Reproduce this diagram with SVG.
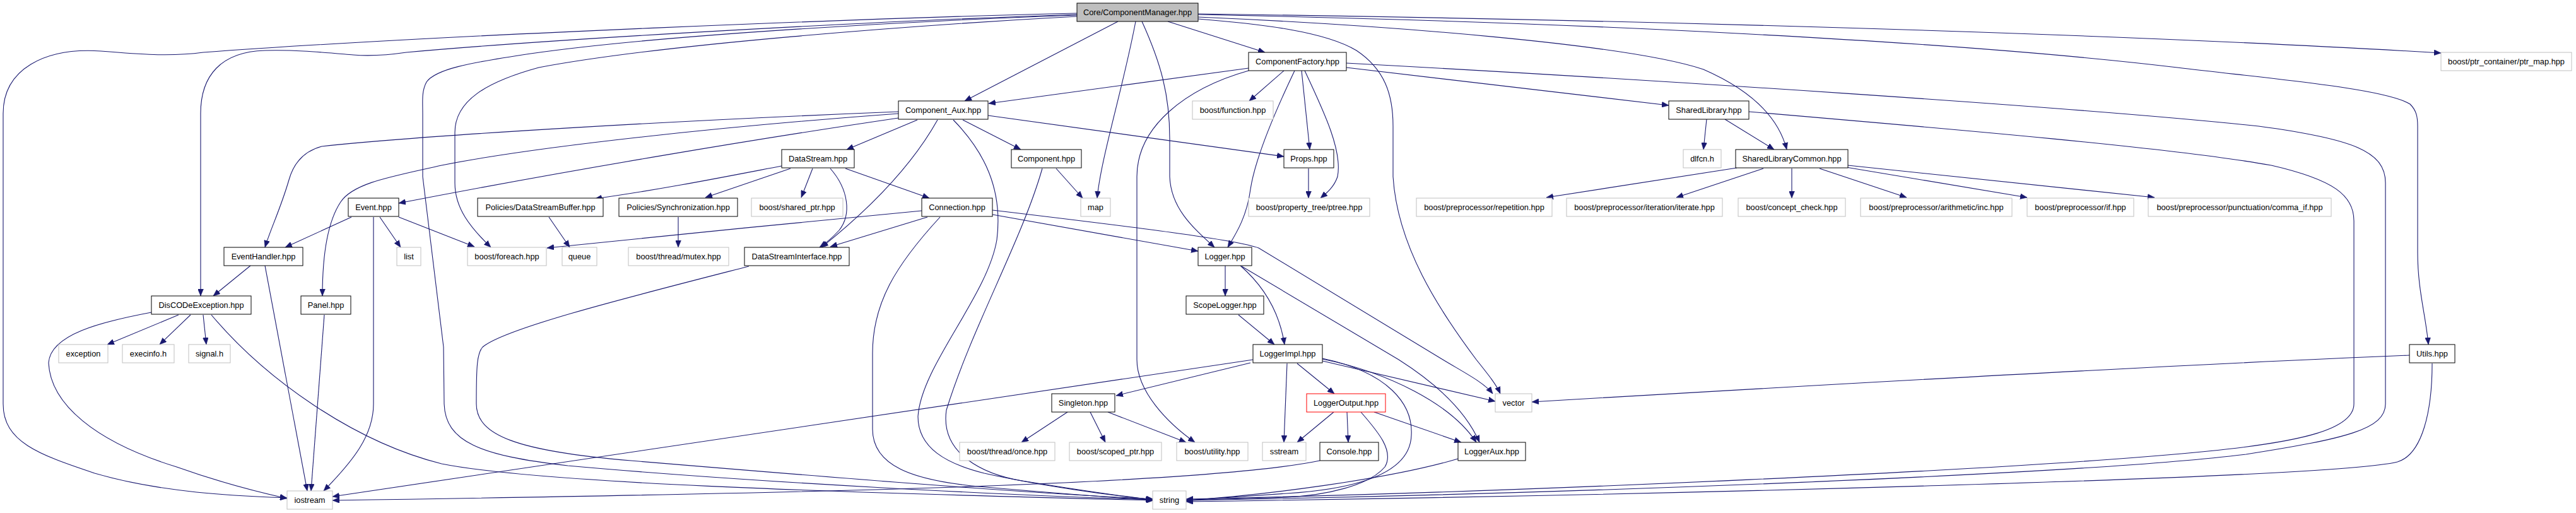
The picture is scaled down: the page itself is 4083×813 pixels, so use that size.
<svg xmlns="http://www.w3.org/2000/svg" width="4083" height="813" viewBox="0 0 4083 813">
<style>
.node rect{fill:#fff;stroke:#000;stroke-width:1}
.ext rect{stroke:#bfbfbf}
.root rect{fill:#bfbfbf}
.red rect{stroke:#ff0000}
.node text{font-family:"Liberation Sans",Arial,Helvetica,sans-serif;font-size:12.8px;text-anchor:middle;fill:#000}
#edges path{fill:none;stroke:#191970;stroke-width:1.1;marker-end:url(#arr)}
</style>
<defs>
<marker id="arr" markerUnits="userSpaceOnUse" markerWidth="11" markerHeight="9" refX="11" refY="4.5" orient="auto">
<path d="M0,0 L11,4.5 L0,9 z" fill="#191970" stroke="#191970" stroke-width="0.5"/>
</marker>
</defs>
<rect width="4083" height="813" fill="#fff"/>
<g id="edges">
<path d="M1707,21 C1400,28 700,55 322,83 C270,90 220,86 160,81 C70,75 5,110 5,180 L5,640 C5,700 60,720 150,750 C260,782 380,786 455,789"/>
<path d="M1707,23 C1400,33 900,60 644,83 C610,88 585,89 560,87 C500,82 470,79 420,80 C350,82 318,120 318,180 L318,469"/>
<path d="M1707,24 C1450,33 1050,55 841,85 C740,100 690,110 676,130 C668,145 670,160 670,180 L670,280 L703,550 L704,640 C706,700 760,722 900,738 C1200,765 1600,785 1827,792"/>
<path d="M1707,26 C1450,40 1050,70 854,107 C770,130 721,160 721,210 L721,290 C721,330 745,360 778,392"/>
<path d="M1772,34 L1529,160"/>
<path d="M1800,34 C1780,140 1745,250 1739,314"/>
<path d="M1810,34 C1840,100 1854,150 1854,220 L1854,280 C1856,330 1890,360 1925,392"/>
<path d="M1851,34 L2005,83"/>
<path d="M1899,22 C2500,30 3300,50 3869,84"/>
<path d="M1899,23 C2500,35 3100,65 3451,107 C3600,125 3780,140 3820,165 C3830,175 3832,185 3832,200 L3832,400 C3832,460 3845,500 3849,546"/>
<path d="M1899,27 C2200,40 2580,70 2700,110 C2780,145 2820,190 2832,237"/>
<path d="M1899,30 C2000,38 2100,50 2150,80 C2195,110 2208,150 2208,200 L2208,280 C2215,390 2280,490 2340,570 C2360,595 2372,610 2378,624"/>
<path d="M1979,108 L1567,164"/>
<path d="M2035,112 L1980,160"/>
<path d="M1979,112 C1880,140 1802,200 1802,280 L1802,570 C1802,620 1850,670 1894,701"/>
<path d="M2052,112 C2010,200 1988,260 1982,300 C1976,345 1958,372 1946,392"/>
<path d="M2063,112 L2076,237"/>
<path d="M2068,112 C2100,180 2128,240 2120,280 C2114,298 2100,308 2093,314"/>
<path d="M2134,107 L2645,167"/>
<path d="M2134,100 C2600,125 3300,170 3580,200 C3730,220 3781,240 3781,290 L3781,640 C3781,680 3720,695 3560,720 C3300,752 2500,782 1880,793"/>
<path d="M2705,189 L2700,237"/>
<path d="M2734,189 L2812,237"/>
<path d="M2772,177 C3100,205 3450,235 3600,262 C3700,285 3731,310 3731,350 L3731,640 C3731,680 3650,700 3500,715 C3200,745 2400,780 1880,791"/>
<path d="M3819,563 C3400,580 2800,615 2428,637"/>
<path d="M3855,576 C3855,650 3840,720 3800,732 C3700,758 2600,785 1880,795"/>
<path d="M2753,266 L2451,313"/>
<path d="M2795,267 L2657,313"/>
<path d="M2840,267 L2840,314"/>
<path d="M2884,267 L3022,313"/>
<path d="M2920,264 L3213,313"/>
<path d="M2929,262 L3415,313"/>
<path d="M1424,177 C1100,190 700,212 510,232 C480,240 465,260 458,285 C445,330 428,365 420,392"/>
<path d="M1424,180 C1150,200 850,232 700,262 C620,280 560,290 540,320 C520,350 511,400 511,469"/>
<path d="M1424,187 C1200,220 900,270 632,322"/>
<path d="M1454,190 L1342,237"/>
<path d="M1486,190 Q1430,290 1302,392"/>
<path d="M1511,190 C1560,240 1590,300 1580,380 C1565,470 1460,580 1455,660 C1455,710 1500,735 1560,750 C1650,770 1760,785 1828,792"/>
<path d="M1526,190 L1618,237"/>
<path d="M1566,183 L2035,248"/>
<path d="M1674,267 L1716,314"/>
<path d="M1652,267 C1620,380 1540,520 1500,650 C1490,720 1560,752 1620,762 C1700,775 1780,787 1828,792"/>
<path d="M1239,263 C1150,280 1050,300 943,315"/>
<path d="M1253,267 L1118,313"/>
<path d="M1288,267 L1270,313"/>
<path d="M1316,267 C1345,300 1350,340 1330,365 C1318,378 1305,388 1299,392"/>
<path d="M1340,267 L1473,314"/>
<path d="M1461,334 C1300,350 1000,378 867,393"/>
<path d="M1470,344 L1316,391"/>
<path d="M1490,344 C1420,420 1383,480 1383,560 L1383,680 C1383,740 1450,760 1540,770 C1650,780 1760,788 1828,793"/>
<path d="M1573,340 L1899,398"/>
<path d="M1573,333 C1800,360 1960,380 1995,393 L2287,570 C2320,590 2352,606 2366,624"/>
<path d="M1187,422 C1000,470 800,520 765,550 C756,560 755,580 755,640 C755,690 820,715 1000,730 C1300,755 1600,780 1828,791"/>
<path d="M557,344 L452,392"/>
<path d="M602,344 L635,392"/>
<path d="M632,344 L752,391"/>
<path d="M592,344 L592,640 C592,690 560,730 513,778"/>
<path d="M397,421 L338,469"/>
<path d="M420,421 L487,778"/>
<path d="M514,499 L493,778"/>
<path d="M283,499 L170,546"/>
<path d="M302,499 L253,546"/>
<path d="M322,499 L327,546"/>
<path d="M240,495 C160,510 80,530 77,575 C80,640 150,700 280,740 C350,765 410,780 455,790"/>
<path d="M335,499 C420,600 560,700 700,735 C850,765 1300,780 1828,793"/>
<path d="M1942,421 L1942,469"/>
<path d="M1966,421 C2005,455 2028,495 2036,546"/>
<path d="M1968,422 L2217,570 C2280,610 2325,655 2345,701"/>
<path d="M1986,570 L527,787"/>
<path d="M1982,575 L1769,627"/>
<path d="M2040,576 L2035,701"/>
<path d="M2056,576 L2115,624"/>
<path d="M2096,572 L2370,636"/>
<path d="M2096,569 C2200,590 2300,640 2340,701"/>
<path d="M2096,568 C2200,590 2240,640 2237,690 C2235,750 2150,775 2040,782 C1980,786 1920,790 1880,793"/>
<path d="M1963,499 L2020,546"/>
<path d="M2114,653 L2056,701"/>
<path d="M2135,653 L2137,701"/>
<path d="M2157,653 C2185,685 2210,715 2195,740 C2170,770 2100,785 2040,788 C1980,790 1920,792 1880,793"/>
<path d="M2178,653 L2316,701"/>
<path d="M2092,730 C1900,770 1200,783 527,793"/>
<path d="M2311,727 C2200,760 2000,785 1880,793"/>
<path d="M1692,653 L1619,701"/>
<path d="M1728,653 L1752,701"/>
<path d="M1756,653 L1880,701"/>
<path d="M870,344 L903,392"/>
<path d="M1075,344 L1075,392"/>
<path d="M2074,267 L2074,314"/>
</g>
<g id="n_cm" class="node root"><rect x="1707" y="5" width="192" height="29"/><text x="1803" y="24">Core/ComponentManager.hpp</text></g>
<g id="n_compaux" class="node"><rect x="1424" y="160" width="142" height="29"/><text x="1495" y="179">Component_Aux.hpp</text></g>
<g id="n_function" class="node ext"><rect x="1890" y="160" width="128" height="29"/><text x="1954" y="179">boost/function.hpp</text></g>
<g id="n_cfactory" class="node"><rect x="1979" y="83" width="155" height="29"/><text x="2056.5" y="102">ComponentFactory.hpp</text></g>
<g id="n_datastream" class="node"><rect x="1239" y="237" width="115" height="29"/><text x="1296.5" y="256">DataStream.hpp</text></g>
<g id="n_component" class="node"><rect x="1603" y="237" width="111" height="29"/><text x="1658.5" y="256">Component.hpp</text></g>
<g id="n_props" class="node"><rect x="2035" y="237" width="79" height="29"/><text x="2074.5" y="256">Props.hpp</text></g>
<g id="n_sharedlib" class="node"><rect x="2645" y="160" width="127" height="29"/><text x="2708.5" y="179">SharedLibrary.hpp</text></g>
<g id="n_dlfcn" class="node ext"><rect x="2668" y="237" width="60" height="29"/><text x="2698" y="256">dlfcn.h</text></g>
<g id="n_slc" class="node"><rect x="2751" y="237" width="178" height="29"/><text x="2840" y="256">SharedLibraryCommon.hpp</text></g>
<g id="n_ptrmap" class="node ext"><rect x="3869" y="83" width="207" height="29"/><text x="3972.5" y="102">boost/ptr_container/ptr_map.hpp</text></g>
<g id="n_event" class="node"><rect x="552" y="314" width="80" height="29"/><text x="592" y="333">Event.hpp</text></g>
<g id="n_pdsb" class="node"><rect x="757" y="314" width="199" height="29"/><text x="856.5" y="333">Policies/DataStreamBuffer.hpp</text></g>
<g id="n_psync" class="node"><rect x="981" y="314" width="188" height="29"/><text x="1075" y="333">Policies/Synchronization.hpp</text></g>
<g id="n_sharedptr" class="node ext"><rect x="1191" y="314" width="145" height="29"/><text x="1263.5" y="333">boost/shared_ptr.hpp</text></g>
<g id="n_connection" class="node"><rect x="1461" y="314" width="112" height="29"/><text x="1517" y="333">Connection.hpp</text></g>
<g id="n_map" class="node ext"><rect x="1713" y="314" width="47" height="29"/><text x="1736.5" y="333">map</text></g>
<g id="n_ptree" class="node ext"><rect x="1979" y="314" width="192" height="29"/><text x="2075" y="333">boost/property_tree/ptree.hpp</text></g>
<g id="n_repetition" class="node ext"><rect x="2245" y="314" width="215" height="29"/><text x="2352.5" y="333">boost/preprocessor/repetition.hpp</text></g>
<g id="n_iterate" class="node ext"><rect x="2483" y="314" width="247" height="29"/><text x="2606.5" y="333">boost/preprocessor/iteration/iterate.hpp</text></g>
<g id="n_concept" class="node ext"><rect x="2755" y="314" width="170" height="29"/><text x="2840" y="333">boost/concept_check.hpp</text></g>
<g id="n_inc" class="node ext"><rect x="2949" y="314" width="240" height="29"/><text x="3069" y="333">boost/preprocessor/arithmetic/inc.hpp</text></g>
<g id="n_if" class="node ext"><rect x="3213" y="314" width="169" height="29"/><text x="3297.5" y="333">boost/preprocessor/if.hpp</text></g>
<g id="n_commaif" class="node ext"><rect x="3405" y="314" width="290" height="29"/><text x="3550" y="333">boost/preprocessor/punctuation/comma_if.hpp</text></g>
<g id="n_eventhandler" class="node"><rect x="355" y="392" width="125" height="29"/><text x="417.5" y="411">EventHandler.hpp</text></g>
<g id="n_list" class="node ext"><rect x="629" y="392" width="38" height="29"/><text x="648" y="411">list</text></g>
<g id="n_foreach" class="node ext"><rect x="741" y="392" width="125" height="29"/><text x="803.5" y="411">boost/foreach.hpp</text></g>
<g id="n_queue" class="node ext"><rect x="891" y="392" width="55" height="29"/><text x="918.5" y="411">queue</text></g>
<g id="n_mutex" class="node ext"><rect x="996" y="392" width="159" height="29"/><text x="1075.5" y="411">boost/thread/mutex.hpp</text></g>
<g id="n_dsi" class="node"><rect x="1180" y="392" width="166" height="29"/><text x="1263" y="411">DataStreamInterface.hpp</text></g>
<g id="n_logger" class="node"><rect x="1899" y="392" width="85" height="29"/><text x="1941.5" y="411">Logger.hpp</text></g>
<g id="n_discode" class="node"><rect x="240" y="469" width="158" height="29"/><text x="319" y="488">DisCODeException.hpp</text></g>
<g id="n_panel" class="node"><rect x="477" y="469" width="79" height="29"/><text x="516.5" y="488">Panel.hpp</text></g>
<g id="n_scopelogger" class="node"><rect x="1880" y="469" width="123" height="29"/><text x="1941.5" y="488">ScopeLogger.hpp</text></g>
<g id="n_exception" class="node ext"><rect x="93" y="546" width="78" height="29"/><text x="132" y="565">exception</text></g>
<g id="n_execinfo" class="node ext"><rect x="194" y="546" width="82" height="29"/><text x="235" y="565">execinfo.h</text></g>
<g id="n_signal" class="node ext"><rect x="299" y="546" width="66" height="29"/><text x="332" y="565">signal.h</text></g>
<g id="n_loggerimpl" class="node"><rect x="1986" y="546" width="110" height="29"/><text x="2041" y="565">LoggerImpl.hpp</text></g>
<g id="n_utils" class="node"><rect x="3819" y="546" width="72" height="29"/><text x="3855" y="565">Utils.hpp</text></g>
<g id="n_singleton" class="node"><rect x="1667" y="624" width="100" height="29"/><text x="1717" y="643">Singleton.hpp</text></g>
<g id="n_loggeroutput" class="node red"><rect x="2071" y="624" width="125" height="29"/><text x="2133.5" y="643">LoggerOutput.hpp</text></g>
<g id="n_vector" class="node ext"><rect x="2370" y="624" width="58" height="29"/><text x="2399" y="643">vector</text></g>
<g id="n_once" class="node ext"><rect x="1521" y="701" width="151" height="29"/><text x="1596.5" y="720">boost/thread/once.hpp</text></g>
<g id="n_scopedptr" class="node ext"><rect x="1695" y="701" width="146" height="29"/><text x="1768" y="720">boost/scoped_ptr.hpp</text></g>
<g id="n_utility" class="node ext"><rect x="1865" y="701" width="113" height="29"/><text x="1921.5" y="720">boost/utility.hpp</text></g>
<g id="n_sstream" class="node ext"><rect x="2001" y="701" width="69" height="29"/><text x="2035.5" y="720">sstream</text></g>
<g id="n_console" class="node"><rect x="2092" y="701" width="93" height="29"/><text x="2138.5" y="720">Console.hpp</text></g>
<g id="n_loggeraux" class="node"><rect x="2311" y="701" width="107" height="29"/><text x="2364.5" y="720">LoggerAux.hpp</text></g>
<g id="n_iostream" class="node ext"><rect x="455" y="778" width="72" height="29"/><text x="491" y="797">iostream</text></g>
<g id="n_string" class="node ext"><rect x="1827" y="778" width="53" height="29"/><text x="1853.5" y="797">string</text></g>
</svg>
